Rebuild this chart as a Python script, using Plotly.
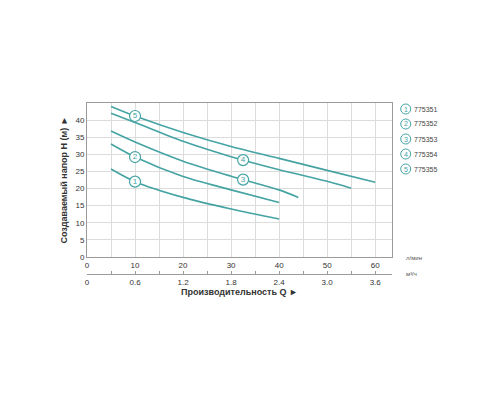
import plotly.graph_objects as go

# --- data ---
flow_lpm = [5, 10, 20, 30, 40, 50, 60]
head_1 = [25.7, 22.0, 17.4, 14.0, 11.1]
head_2 = [33.0, 29.2, 23.5, 19.6, 15.9]
head_3_x = [5, 10, 20, 30, 40, 44]
head_3 = [36.8, 33.6, 28.0, 23.6, 19.6, 17.4]
head_4_x = [5, 10, 20, 30, 40, 50, 55]
head_4 = [42.0, 39.3, 33.8, 29.3, 25.5, 22.1, 20.1]
head_5 = [44.0, 41.2, 36.4, 32.3, 28.8, 25.3, 21.8]

curve_x = [flow_lpm[:5], flow_lpm[:5], head_3_x, head_4_x, flow_lpm]
curve_y = [head_1, head_2, head_3, head_4, head_5]

label_x = [10, 10, 32.5, 32.5, 10]
label_y = [22.0, 29.2, 22.6, 28.3, 41.2]

models = ["775351", "775352", "775353", "775354", "775355"]
lpm_ticks = [0, 10, 20, 30, 40, 50, 60]
m3h_ticks = ["0", "0.6", "1.2", "1.8", "2.4", "3.0", "3.6"]

TEAL = "#45a3a3"
GRID = "#dcdcdc"
AXIS = "#9a9a9a"
TXT = "#333333"

fig = go.Figure()

for i in range(5):
    fig.add_trace(go.Scatter(x=curve_x[i], y=curve_y[i], mode="lines",
        line=dict(color=TEAL, width=1.6, shape="spline", smoothing=0.8), showlegend=False,
        hoverinfo="skip"))

# numbered circles on the curves
fig.add_trace(go.Scatter(x=label_x, y=label_y, mode="markers+text",
    marker=dict(size=11, color="white", line=dict(color=TEAL, width=1.2)),
    text=[str(i + 1) for i in range(5)], textposition="middle center",
    textfont=dict(size=8, color=TEAL, family="Arial"), showlegend=False))

# empty helper axis for the m3/h scale
fig.add_trace(go.Scatter(x=[0], y=[0], xaxis="x2", yaxis="y2", mode="markers",
    marker=dict(opacity=0), showlegend=False, hoverinfo="skip"))

fig.update_layout(
    width=500, height=400,
    margin=dict(l=79, r=116, t=95, b=134),
    plot_bgcolor="white", paper_bgcolor="white",
    font=dict(family="Arial", color=TXT, size=8),
    xaxis=dict(range=[0, 63.5], tickvals=lpm_ticks, showgrid=True, gridcolor=GRID,
               minor=dict(dtick=5, tick0=0, showgrid=True, gridcolor=GRID),
               showline=True, linecolor=AXIS, mirror=True, ticks="", ticklen=0,
               zeroline=False, anchor="y", tickfont=dict(size=8), automargin=False),
    yaxis=dict(range=[0, 45], tickvals=[0, 5, 10, 15, 20, 25, 30, 35, 40],
               showgrid=True, gridcolor=GRID, showline=True, linecolor=AXIS,
               mirror=True, zeroline=False, domain=[0.1, 1], ticks="",
               tickfont=dict(size=8), automargin=False,
               title=dict(text="<b>Создаваемый напор H (м) ►</b>", font=dict(size=9), standoff=6)),
    xaxis2=dict(range=[0, 63.5], tickvals=lpm_ticks, ticktext=m3h_ticks, anchor="y2",
                showgrid=False, showline=True, linecolor=AXIS, ticks="inside", ticklen=3,
                tickcolor=AXIS, minor=dict(dtick=5, tick0=0, ticks="inside", ticklen=3, tickcolor=AXIS),
                zeroline=False, tickfont=dict(size=8), automargin=False,
                title=dict(text="<b>Производительность Q ►</b>", font=dict(size=9), standoff=3)),
    yaxis2=dict(domain=[0, 0.002], visible=False, range=[0, 1]),
)

# unit labels
fig.add_annotation(x=1.04, y=0.092, xref="paper", yref="paper", text="л/мин",
                   showarrow=False, xanchor="left", yanchor="middle",
                   font=dict(size=6, color="#555555"))
fig.add_annotation(x=1.04, y=0.0, xref="paper", yref="paper", text="м³/ч",
                   showarrow=False, xanchor="left", yanchor="middle",
                   font=dict(size=6, color="#555555"))

# legend on the right
leg_y = [109, 124, 139, 154, 169]
for i in range(5):
    yp = 1 - (leg_y[i] - 103) / 171
    fig.add_shape(type="circle", xref="paper", yref="paper", xsizemode="pixel",
                  ysizemode="pixel", xanchor=1.045, yanchor=yp, x0=-5, x1=5, y0=-5, y1=5,
                  line=dict(color=TEAL, width=1), fillcolor="white")
    fig.add_annotation(x=1.045, y=yp, xref="paper", yref="paper", text=str(i + 1),
                       showarrow=False, xanchor="center", yanchor="middle",
                       font=dict(size=7, color=TEAL))
    fig.add_annotation(x=1.064, y=yp, xref="paper", yref="paper", text=models[i],
                       showarrow=False, xanchor="left", yanchor="middle",
                       font=dict(size=7, color="#444444"))

fig.write_html("out.html")
